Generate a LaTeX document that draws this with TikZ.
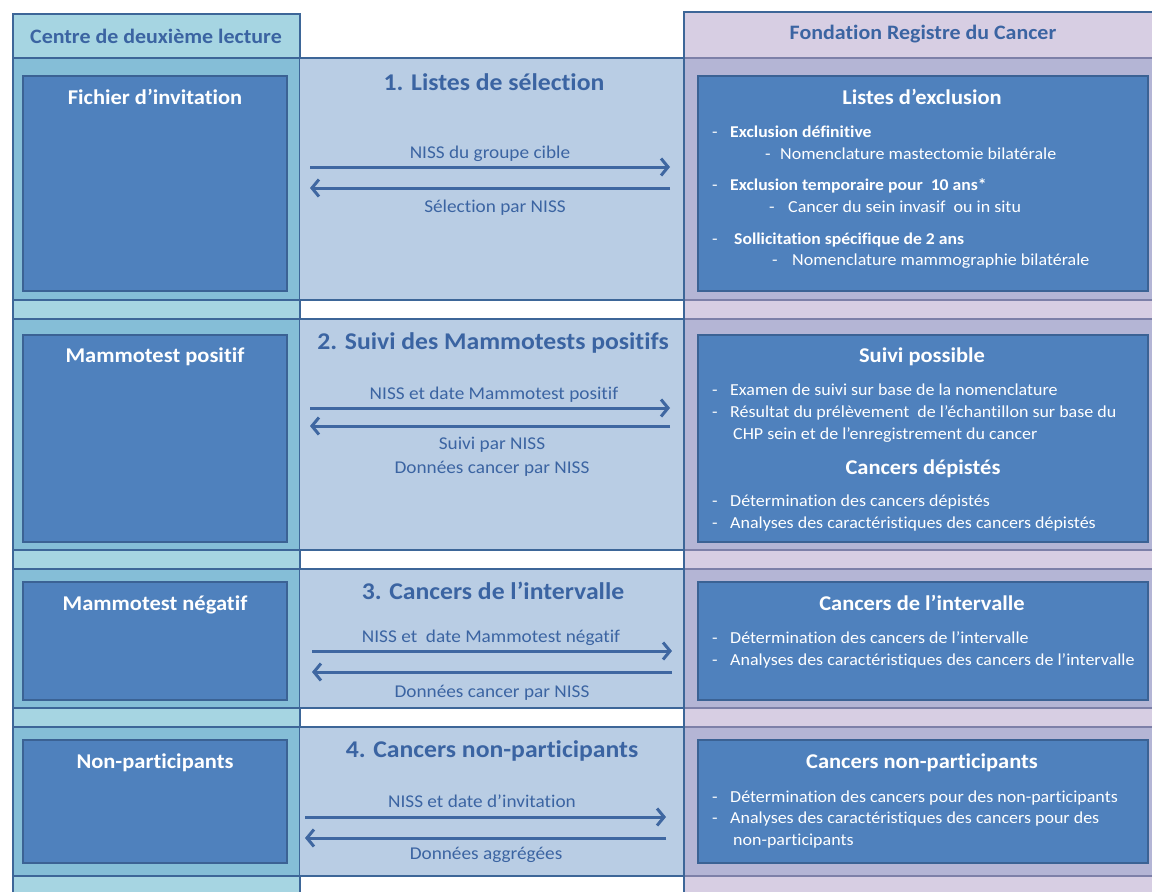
\documentclass[tikz,border=0pt]{standalone}
\usepackage{fontspec}
\setmainfont{Carlito}[FakeStretch=1.07, Ligatures=NoCommon]
\usetikzlibrary{arrows.meta}

\definecolor{headL}{HTML}{A6D5E2}
\definecolor{bandL}{HTML}{85BED7}
\definecolor{midBand}{HTML}{B9CDE4}
\definecolor{headR}{HTML}{D7CEE3}
\definecolor{bandR}{HTML}{B4B5D5}
\definecolor{boxBlue}{HTML}{4F81BD}
\definecolor{bordBox}{HTML}{3B6294}
\definecolor{bordL}{HTML}{3D6698}
\definecolor{lineR}{HTML}{7D80A8}
\definecolor{txtBlue}{HTML}{3B64A2}
\definecolor{arrowBlue}{HTML}{3F67A1}

\begin{document}
\begin{tikzpicture}[x=1pt,y=-1pt,
  boite/.style={draw=bordBox, fill=boxBlue, line width=2pt, inner sep=0pt},
  titreblanc/.style={text=white, font=\fontsize{21}{24}\selectfont\bfseries, anchor=base, inner sep=0pt},
  titremilieu/.style={text=txtBlue, font=\fontsize{24}{27}\selectfont\bfseries, anchor=base, inner sep=0pt},
  entete/.style={text=txtBlue, font=\fontsize{20.5}{23}\selectfont\bfseries, anchor=base, inner sep=0pt},
  etiquette/.style={text=txtBlue, font=\fontsize{18}{21}\selectfont, anchor=base, inner sep=0pt},
  puce/.style={text=white, font=\fontsize{16.8}{20}\selectfont, anchor=base west, inner sep=0pt},
  pucegras/.style={puce, font=\fontsize{16.5}{20}\selectfont\bfseries},
  fleche/.style={draw=arrowBlue, line width=3pt, -{Straight Barb[length=7pt,width=17pt]}}]
\useasboundingbox (0,0) rectangle (1152,892);
\clip (0,0) rectangle (1152,892);

% left column
\fill[headL] (13,14) rectangle (300,900);
\foreach \t/\b in {58/300,319/550,569/708,727/876} {\fill[bandL] (13,\t) rectangle (300,\b);}
\foreach \y in {58,300,319,550,569,708,727,876} {\draw[bordL, line width=2pt] (13,\y) -- (300,\y);}
\draw[bordL, line width=2.5pt] (13,900) -- (13,14) -- (300,14) -- (300,900);

% middle column
\foreach \t/\b in {58/300,319/550,569/708,727/876} {\fill[midBand] (300,\t) rectangle (684,\b);}
\foreach \y in {58,300,319,550,569,708,727,876} {\draw[bordL, line width=2pt] (300,\y) -- (684,\y);}

% right column
\fill[headR] (684,12) rectangle (1160,900);
\foreach \t/\b in {58/300,319/550,569/708,727/876} {\fill[bandR] (684,\t) rectangle (1160,\b);}
\foreach \y in {58,300,319,550,569,708,727,876} {\draw[lineR, line width=2pt] (684,\y) -- (1160,\y);}
\draw[bordL, line width=2.5pt] (684,900) -- (684,12) -- (1160,12);

% headers
\node[entete] (centre) at (156,43) {Centre de deuxième lecture};
\node[entete] (fondation) at (923,39) {Fondation Registre du Cancer};

% boxes
\node[boite, minimum width=264pt, minimum height=215pt] (fichier) at (155,183.5) {};
\node[boite, minimum width=264pt, minimum height=207pt] (positif) at (155,438.5) {};
\node[boite, minimum width=264pt, minimum height=118pt] (negatif) at (155,641) {};
\node[boite, minimum width=264pt, minimum height=123pt] (nonpart) at (155,801.5) {};
\node[boite, minimum width=450pt, minimum height=215pt] (exclusion) at (923,183.5) {};
\node[boite, minimum width=450pt, minimum height=207pt] (suivi) at (923,438.5) {};
\node[boite, minimum width=450pt, minimum height=118pt] (intervalle) at (923,641) {};
\node[boite, minimum width=450pt, minimum height=123pt] (cancersnp) at (923,801.5) {};

% box titles
\node[titreblanc] at (155,104) {Fichier d’invitation};
\node[titreblanc] at (155,362) {Mammotest positif};
\node[titreblanc] at (155,610) {Mammotest négatif};
\node[titreblanc] at (155,768) {Non-participants};
\node[titreblanc] at (922,104) {Listes d’exclusion};
\node[titreblanc] at (922,362) {Suivi possible};
\node[titreblanc] at (923,474) {Cancers dépistés};
\node[titreblanc] at (922,610) {Cancers de l’intervalle};
\node[titreblanc] at (922,768) {Cancers non-participants};

% middle titles
\node[titremilieu] at (494,90) {1. Listes de sélection};
\node[titremilieu] at (493,349) {2. Suivi des Mammotests positifs};
\node[titremilieu] at (493,599) {3. Cancers de l’intervalle};
\node[titremilieu] at (492,757) {4. Cancers non-participants};

% arrows
\coordinate (g1a) at (310,167); \coordinate (d1a) at (670,167);
\coordinate (d1b) at (670,188); \coordinate (g1b) at (310,188);
\coordinate (g2a) at (310,408); \coordinate (d2a) at (670,408);
\coordinate (d2b) at (670,426); \coordinate (g2b) at (310,426);
\coordinate (g3a) at (312,651); \coordinate (d3a) at (672,651);
\coordinate (d3b) at (672,672); \coordinate (g3b) at (312,672);
\coordinate (g4a) at (305,817); \coordinate (d4a) at (666,817);
\coordinate (d4b) at (666,838); \coordinate (g4b) at (305,838);
\foreach \n in {1,2,3,4} {
  \draw[fleche] (g\n a) -- (d\n a);
  \draw[fleche] (d\n b) -- (g\n b);
}

% arrow labels
\node[etiquette] at (490,158) {NISS du groupe cible};
\node[etiquette] at (495,212) {Sélection par NISS};
\node[etiquette] at (494,399) {NISS et date Mammotest positif};
\node[etiquette] at (492,449) {Suivi par NISS};
\node[etiquette] at (492,473) {Données cancer par NISS};
\node[etiquette] at (491,642) {NISS et~ date Mammotest négatif};
\node[etiquette] at (492,697) {Données cancer par NISS};
\node[etiquette] at (482,807) {NISS et date d’invitation};
\node[etiquette] at (486,859) {Données aggrégées};

% exclusion lists
\foreach \dx/\tx/\yy/\txt in {712/730/137/{Exclusion définitive},712/730/190/{Exclusion temporaire pour~ 10 ans*},712/734/244/{Sollicitation spécifique de 2 ans}} {
  \node[puce] at (\dx,\yy) {-};
  \node[pucegras] at (\tx,\yy) {\txt};
}
\foreach \dx/\tx/\yy/\txt in {765/780/159/{Nomenclature mastectomie bilatérale},769/788/212/{Cancer du sein invasif~ ou in situ},772/792/265/{Nomenclature mammographie bilatérale}} {
  \node[puce] at (\dx,\yy) {-};
  \node[puce] at (\tx,\yy) {\txt};
}

% bullet lines right
\foreach \yy/\txt in {395/{Examen de suivi sur base de la nomenclature},417/{Résultat du prélèvement~ de l’échantillon sur base du},506/{Détermination des cancers dépistés},528/{Analyses des caractéristiques des cancers dépistés},643/{Détermination des cancers de l’intervalle},665/{Analyses des caractéristiques des cancers de l’intervalle},802/{Détermination des cancers pour des non-participants},823/{Analyses des caractéristiques des cancers pour des}} {
  \node[puce] at (712,\yy) {-};
  \node[puce] at (730,\yy) {\txt};
}
\node[puce] at (733,439) {CHP sein et de l’enregistrement du cancer};
\node[puce] at (733,845) {non-participants};
\end{tikzpicture}
\end{document}
